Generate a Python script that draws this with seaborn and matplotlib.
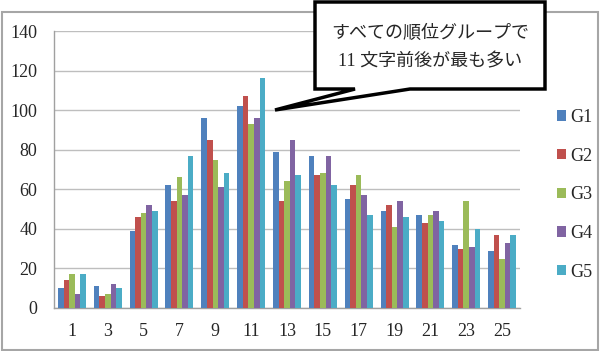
import matplotlib
matplotlib.use("Agg")
import matplotlib.pyplot as plt
import seaborn as sns
import pandas as pd
import numpy as np
from matplotlib.patches import Polygon, Rectangle, Patch

categories = ["1", "3", "5", "7", "9", "11", "13", "15", "17", "19", "21", "23", "25"]
G1 = [10, 11, 39, 62, 96, 102, 79, 77, 55, 49, 47, 32, 29]
G2 = [14, 6, 46, 54, 85, 107, 54, 67, 62, 52, 43, 30, 37]
G3 = [17, 7, 48, 66, 75, 93, 64, 68, 67, 41, 47, 54, 25]
G4 = [7, 12, 52, 57, 61, 96, 85, 77, 57, 54, 49, 31, 33]
G5 = [17, 10, 49, 77, 68, 116, 67, 62, 47, 46, 44, 40, 37]
series_names = ["G1", "G2", "G3", "G4", "G5"]
colors = ["#4F81BD", "#C0504D", "#9BBB59", "#8064A2", "#4BACC6"]
y_ticks = [0, 20, 40, 60, 80, 100, 120, 140]
callout = "すべての順位グループで\n11 文字前後が最も多い"

rows = []
for name, vals in zip(series_names, [G1, G2, G3, G4, G5]):
    for c, v in zip(categories, vals):
        rows.append({"cat": c, "val": v, "group": name})
df = pd.DataFrame(rows)

sns.set_style("white")
plt.rcParams["font.family"] = ["Liberation Serif", "Noto Sans CJK JP"]

W, H = 600, 351
fig = plt.figure(figsize=(6, 3.51), dpi=100)
ax = fig.add_axes([54 / W, 1 - 308 / H, 466 / W, 277 / H])

sns.barplot(data=df, x="cat", y="val", hue="group", order=categories,
            hue_order=series_names, palette=colors, width=0.78, gap=0,
            linewidth=0, saturation=1, errorbar=None, ax=ax, zorder=3)

ax.set_xlim(-0.5, len(categories) - 0.5)
ax.set_ylim(0, 140)
ax.set_yticks(y_ticks)
ax.set_yticklabels([str(t) for t in y_ticks], fontsize=13)
ax.set_xticks(range(len(categories)))
ax.set_xticklabels(categories, fontsize=13)
ax.set_xticks(np.arange(-0.5, len(categories)), minor=True)
ax.tick_params(axis="x", which="major", length=0, pad=11)
ax.tick_params(axis="x", which="minor", length=5, color="#A0A0A0", direction="out")
ax.tick_params(axis="y", length=5, color="#A0A0A0", direction="out", pad=7)
ax.set_xlabel("")
ax.set_ylabel("")
ax.yaxis.grid(True, color="#BEBEBE", linewidth=1, zorder=0)
ax.set_axisbelow(True)
for s in ["top", "right"]:
    ax.spines[s].set_visible(False)
for s in ["left", "bottom"]:
    ax.spines[s].set_color("#A0A0A0")
    ax.spines[s].set_linewidth(1)

handles = [Patch(facecolor=c, edgecolor="none") for c in colors]
if ax.get_legend() is not None:
    ax.get_legend().remove()
fig.legend(handles, series_names, loc="upper left",
           bbox_to_anchor=(548 / W, 1 - 100 / H), frameon=False,
           fontsize=13, handlelength=0.5, handleheight=0.5,
           handletextpad=0.25, labelspacing=1.2, borderpad=0)

# outer chart frame
fig.patches.append(Rectangle((1.5 / W, 1.5 / H), 596.5 / W, (349 - 11) / H,
                             transform=fig.transFigure, fill=False,
                             edgecolor="#A6A6A6", linewidth=1.5, zorder=1))

# callout
pts = [(315, 2), (545, 2), (545, 89), (410, 89), (275, 110), (355, 89), (315, 89)]
poly = Polygon([(x / W, 1 - y / H) for x, y in pts], closed=True,
               transform=fig.transFigure, facecolor="white",
               edgecolor="black", linewidth=2.5, zorder=10)
fig.patches.append(poly)
lines = callout.split("\n")
fig.text(430 / W, 1 - 33 / H, lines[0], ha="center", va="center",
         fontsize=13, zorder=11)
fig.text(430 / W, 1 - 62 / H, lines[1], ha="center", va="center",
         fontsize=13, zorder=11)

fig.savefig("out.png", dpi=100)
